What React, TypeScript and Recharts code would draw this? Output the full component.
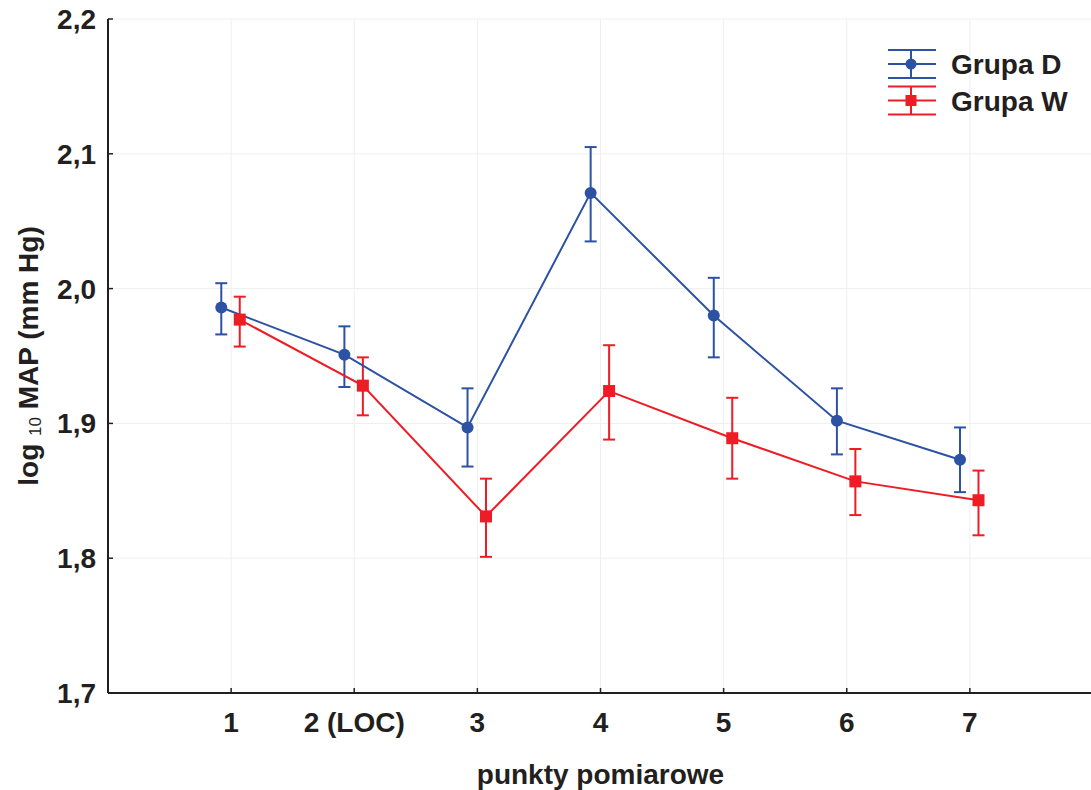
import React from 'react';
import { ComposedChart, Scatter, XAxis, YAxis, CartesianGrid, ErrorBar, Legend } from 'recharts';

const categories = ['1', '2 (LOC)', '3', '4', '5', '6', '7'];
const xTicks = [1, 2, 3, 4, 5, 6, 7];
const yTicks = [1.7, 1.8, 1.9, 2.0, 2.1, 2.2];

const groupDMean = [1.986, 1.951, 1.897, 2.071, 1.980, 1.902, 1.873];
const groupDLow = [1.966, 1.927, 1.868, 2.035, 1.949, 1.877, 1.849];
const groupDHigh = [2.004, 1.972, 1.926, 2.105, 2.008, 1.926, 1.897];

const groupWMean = [1.977, 1.928, 1.831, 1.924, 1.889, 1.857, 1.843];
const groupWLow = [1.957, 1.906, 1.801, 1.888, 1.859, 1.832, 1.817];
const groupWHigh = [1.994, 1.949, 1.859, 1.958, 1.919, 1.881, 1.865];

const BLUE = '#2d51a3';
const RED = '#ee1c25';
const AXIS = '#231f20';
const FONT = '"Liberation Sans", Arial, Helvetica, sans-serif';
const FS = 28;

const D_SHIFT = -0.08;
const W_SHIFT = 0.07;

function build(mean: number[], low: number[], high: number[], shift: number) {
  return mean.map((v, i) => ({
    x: i + 1 + shift,
    y: v,
    err: [+(v - low[i]).toFixed(4), +(high[i] - v).toFixed(4)],
  }));
}

const dataD = build(groupDMean, groupDLow, groupDHigh, D_SHIFT);
const dataW = build(groupWMean, groupWLow, groupWHigh, W_SHIFT);

const series = [
  { name: 'Grupa D', color: BLUE, marker: 'circle' },
  { name: 'Grupa W', color: RED, marker: 'square' },
];

const CircleShape = (p: any) => <circle cx={p.cx} cy={p.cy} r={6} fill={BLUE} />;
const SquareShape = (p: any) => <rect x={p.cx - 6} y={p.cy - 6} width={12} height={12} fill={RED} />;

const BottomTick = (p: any) => {
  const label = categories[Math.round(p.payload.value) - 1];
  return (
    <g>
      <line x1={p.x} x2={p.x} y1={p.y} y2={p.y - 5} stroke={AXIS} strokeWidth={1.5} />
      <text x={p.x} y={p.y + 39} textAnchor="middle" fontFamily={FONT} fontWeight="bold" fontSize={FS} fill={AXIS}>
        {label}
      </text>
    </g>
  );
};

const TopTick = (p: any) => (
  <line x1={p.x} x2={p.x} y1={p.y} y2={p.y + 5} stroke={AXIS} strokeWidth={1.5} />
);

const LeftTick = (p: any) => (
  <g>
    <line x1={p.x} x2={p.x + 5} y1={p.y} y2={p.y} stroke={AXIS} strokeWidth={1.5} />
    <text x={p.x - 12} y={p.y + 10} textAnchor="end" fontFamily={FONT} fontWeight="bold" fontSize={FS} fill={AXIS}>
      {p.payload.value.toFixed(1).replace('.', ',')}
    </text>
  </g>
);

const YLabel = (p: any) => {
  const vb = p.viewBox || {};
  const cx = vb.x + 38;
  const cy = vb.y + vb.height / 2;
  return (
    <text
      x={cx}
      y={cy}
      transform={`rotate(-90 ${cx} ${cy})`}
      textAnchor="middle"
      fontFamily={FONT}
      fontWeight="bold"
      fontSize={FS}
      fill={AXIS}
    >
      <tspan>log </tspan>
      <tspan fontSize={17} fontWeight="normal" dy={3}>10</tspan>
      <tspan dy={-3}> MAP (mm Hg)</tspan>
    </text>
  );
};

const XLabel = (p: any) => {
  const vb = p.viewBox || {};
  return (
    <text
      x={vb.x + vb.width / 2}
      y={vb.y + 91}
      textAnchor="middle"
      fontFamily={FONT}
      fontWeight="bold"
      fontSize={FS}
      fill={AXIS}
    >
      punkty pomiarowe
    </text>
  );
};

const LegendBox = () => (
  <svg width={220} height={80} style={{ display: 'block' }}>
    {series.map((s, i) => {
      const cy = 24 + i * 36.5;
      return (
        <g key={s.name}>
          <line x1={8} x2={56} y1={cy - 14} y2={cy - 14} stroke={s.color} strokeWidth={2} />
          <line x1={8} x2={56} y1={cy} y2={cy} stroke={s.color} strokeWidth={2} />
          <line x1={8} x2={56} y1={cy + 14} y2={cy + 14} stroke={s.color} strokeWidth={2} />
          <line x1={31} x2={31} y1={cy - 14} y2={cy + 14} stroke={s.color} strokeWidth={2} />
          {s.marker === 'circle' ? (
            <circle cx={31} cy={cy} r={5.5} fill={s.color} />
          ) : (
            <rect x={25.5} y={cy - 5.5} width={11} height={11} fill={s.color} />
          )}
          <text x={71} y={cy + 10} fontFamily={FONT} fontWeight="bold" fontSize={FS} fill={AXIS}>
            {s.name}
          </text>
        </g>
      );
    })}
  </svg>
);

export default function App() {
  return (
    <div style={{ position: 'absolute', left: 0, top: 0, width: 1091, height: 790, overflow: 'hidden', background: '#fff' }}>
      <ComposedChart width={1100} height={790} margin={{ top: 19, right: 7, bottom: 0, left: 0 }}>
        <CartesianGrid xAxisId="bottom" stroke="#efefef" strokeWidth={1} />
        <XAxis
          xAxisId="bottom"
          type="number"
          dataKey="x"
          domain={[0, 8]}
          ticks={xTicks}
          allowDecimals={false}
          height={97}
          tickSize={0}
          tickMargin={0}
          tickLine={false}
          axisLine={{ stroke: AXIS, strokeWidth: 2 }}
          tick={<BottomTick />}
          interval={0}
          label={<XLabel />}
        />
        <XAxis
          xAxisId="top"
          orientation="top"
          type="number"
          dataKey="x"
          domain={[0, 8]}
          ticks={xTicks}
          height={0}
          tickSize={0}
          tickMargin={0}
          tickLine={false}
          axisLine={{ stroke: AXIS, strokeWidth: 2 }}
          tick={<TopTick />}
          interval={0}
        />
        <YAxis
          type="number"
          dataKey="y"
          domain={[1.7, 2.2]}
          ticks={yTicks}
          width={108}
          tickSize={0}
          tickMargin={0}
          tickLine={false}
          axisLine={{ stroke: AXIS, strokeWidth: 2 }}
          tick={<LeftTick />}
          interval={0}
          label={<YLabel />}
        />
        <Legend
          layout="vertical"
          align="center"
          verticalAlign="middle"
          content={() => <LegendBox />}
          wrapperStyle={{ position: 'absolute', left: 880, top: 40, width: 220, height: 80 }}
        />
        <Scatter
          name="Grupa D"
          data={dataD}
          xAxisId="bottom"
          dataKey="y"
          fill={BLUE}
          line={{ stroke: BLUE, strokeWidth: 2 }}
          lineType="joint"
          shape={<CircleShape />}
          isAnimationActive={false}
        >
          <ErrorBar dataKey="err" direction="y" width={6} stroke={BLUE} strokeWidth={2} isAnimationActive={false} />
        </Scatter>
        <Scatter
          name="Grupa W"
          data={dataW}
          xAxisId="bottom"
          dataKey="y"
          fill={RED}
          line={{ stroke: RED, strokeWidth: 2 }}
          lineType="joint"
          shape={<SquareShape />}
          isAnimationActive={false}
        >
          <ErrorBar dataKey="err" direction="y" width={6} stroke={RED} strokeWidth={2} isAnimationActive={false} />
        </Scatter>
      </ComposedChart>
    </div>
  );
}
